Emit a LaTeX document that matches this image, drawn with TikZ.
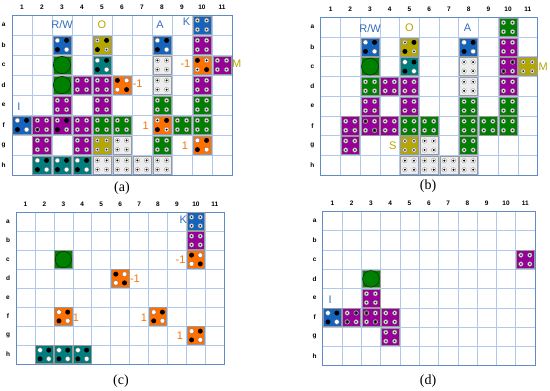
\documentclass[tikz,border=0pt]{standalone}
\usepackage{fontspec}
\setmainfont{Liberation Serif}
\setsansfont{Liberation Sans}
\usepackage{xcolor}
\usepackage{tikz}

\definecolor{tileblue}{RGB}{20,100,190}
\definecolor{tileolive}{RGB}{180,168,0}
\definecolor{tileteal}{RGB}{0,125,125}
\definecolor{tilepurple}{RGB}{150,0,150}
\definecolor{tileorange}{RGB}{255,112,0}
\definecolor{tilegreen}{RGB}{0,128,0}
\definecolor{tilegray}{RGB}{236,236,236}
\definecolor{gridblue}{RGB}{175,200,235}
\definecolor{frameblue}{RGB}{95,140,200}
\definecolor{labblue}{RGB}{50,110,190}
\definecolor{laborange}{RGB}{240,120,20}
\definecolor{labolive}{RGB}{180,165,0}

\tikzset{
  gridline/.style={draw=gridblue, line width=0.6pt},
  gridframe/.style={draw=frameblue, line width=0.9pt},
  tilebox/.style={draw=black!40, line width=0.6pt},
  colnum/.style={font=\sffamily\bfseries\fontsize{6.5}{6.5}\selectfont, inner sep=0pt},
  lab/.style={font=\sffamily\fontsize{11}{11}\selectfont, inner sep=0pt},
  caption/.style={font=\fontsize{14}{14}\selectfont, inner sep=0pt},
  % dots on the tiles
  dotw/.pic={\filldraw[fill=white, draw=black!60, line width=0.3pt] (0,0) circle (2.4pt);},
  dotk/.pic={\fill[black] (0,0) circle (2.5pt);},
  dotr/.pic={\filldraw[fill=white!90!black, draw=black!50, line width=0.3pt] (0,0) circle (2.3pt);
             \fill[black!85] (0,0) circle (1pt);},
  dotm/.pic={\filldraw[fill=black!75, draw=white!80!black, line width=0.4pt] (0,0) circle (2.3pt);
             \fill[black] (0,0) circle (1pt);},
  dotg/.pic={\filldraw[fill=white, draw=black!45, line width=0.3pt] (0,0) circle (2.3pt);
             \fill[black] (0,0) circle (1.1pt);},
}

% grid of 11 x 8 cells with its numbers and letters
\newcommand{\boardgrid}{%
  \foreach \i in {1,...,10} \draw[gridline] (\i,0) -- (\i,8);
  \foreach \j in {1,...,7} \draw[gridline] (0,\j) -- (11,\j);
  \draw[gridframe] (0,0) rectangle (11,8);
  \foreach \i in {1,...,11} \node[colnum] at (\i-0.5,-0.4) {\i};
  \foreach \r [count=\j] in {a,...,h} \node[colnum] at (-0.42,\j-0.5) {\r};
}
% tile in column #1, row #2, colour #3, dots #4..#7
\newcommand{\dietile}[7]{%
  \filldraw[tilebox, fill=#3] (#1-0.96,#2-0.96) rectangle (#1-0.04,#2-0.04);
  \pic at (#1-0.73,#2-0.73) {dot#4};
  \pic at (#1-0.27,#2-0.73) {dot#5};
  \pic at (#1-0.73,#2-0.27) {dot#6};
  \pic at (#1-0.27,#2-0.27) {dot#7};
}
\newcommand{\bigtile}[2]{%
  \filldraw[tilebox, fill=tilegreen] (#1-0.96,#2-0.96) rectangle (#1-0.04,#2-0.04);
  \filldraw[fill=tilegreen, draw=black!55!tilegreen, line width=0.6pt] (#1-0.5,#2-0.5) circle (0.43);
}

\begin{document}
\begin{tikzpicture}[x=1pt, y=-1pt]
  \useasboundingbox (0,0) rectangle (550,391);

  % (a)
  \begin{scope}[shift={(12,15)}, x=20pt, y=-20pt]
    \boardgrid
    \node[lab, text=labblue] at (2.5,0.5) {R/W};
    \node[lab, text=labolive] at (4.5,0.5) {O};
    \node[lab, text=labblue] at (7.4,0.5) {A};
    \node[lab, text=labblue] at (8.73,0.33) {K};
    \node[lab, text=laborange] at (8.67,2.45) {-1};
    \node[lab, text=labolive] at (11.24,2.45) {M};
    \node[lab, text=laborange, anchor=west] at (6.03,3.45) {-1};
    \node[lab, text=labblue] at (0.35,4.6) {I};
    \node[lab, text=laborange] at (6.68,5.52) {1};
    \node[lab, text=laborange] at (8.65,6.52) {1};
    \dietile{10}{1}{tileblue}{r}{r}{r}{r}
    \dietile{3}{2}{tileblue}{w}{k}{k}{w}
    \dietile{5}{2}{tileolive}{r}{k}{k}{r}
    \dietile{8}{2}{tileblue}{w}{k}{k}{w}
    \dietile{10}{2}{tilepurple}{r}{r}{r}{r}
    \bigtile{3}{3}
    \dietile{5}{3}{tileteal}{w}{k}{k}{w}
    \dietile{8}{3}{tilegray}{g}{g}{g}{g}
    \dietile{10}{3}{tileorange}{k}{g}{g}{k}
    \dietile{11}{3}{tilepurple}{r}{r}{r}{r}
    \bigtile{3}{4}
    \dietile{4}{4}{tilepurple}{r}{r}{r}{r}
    \dietile{5}{4}{tilepurple}{r}{r}{r}{r}
    \dietile{6}{4}{tileorange}{k}{w}{w}{k}
    \dietile{8}{4}{tilegray}{g}{g}{g}{g}
    \dietile{10}{4}{tilepurple}{r}{r}{r}{r}
    \dietile{3}{5}{tilepurple}{r}{r}{r}{r}
    \dietile{5}{5}{tilepurple}{r}{r}{r}{r}
    \dietile{8}{5}{tilegreen}{r}{r}{r}{r}
    \dietile{10}{5}{tilegreen}{r}{r}{r}{r}
    \dietile{1}{6}{tileblue}{w}{k}{k}{w}
    \dietile{2}{6}{tilepurple}{r}{r}{m}{r}
    \dietile{3}{6}{tilepurple}{r}{k}{k}{r}
    \dietile{4}{6}{tilepurple}{r}{r}{r}{r}
    \dietile{5}{6}{tilegreen}{r}{r}{r}{r}
    \dietile{6}{6}{tilegreen}{r}{r}{r}{r}
    \dietile{8}{6}{tileorange}{g}{k}{k}{g}
    \dietile{9}{6}{tilegreen}{r}{r}{r}{r}
    \dietile{10}{6}{tilegreen}{r}{r}{r}{r}
    \dietile{2}{7}{tilepurple}{r}{r}{r}{r}
    \dietile{4}{7}{tilepurple}{r}{r}{r}{r}
    \dietile{5}{7}{tileolive}{r}{r}{r}{r}
    \dietile{6}{7}{tilegray}{g}{g}{g}{g}
    \dietile{8}{7}{tilegreen}{r}{r}{r}{r}
    \dietile{10}{7}{tileorange}{w}{k}{k}{w}
    \foreach \c in {2,3,4} {\dietile{\c}{8}{tileteal}{w}{k}{k}{w}}
    \foreach \c in {5,...,8} {\dietile{\c}{8}{tilegray}{g}{g}{g}{g}}
  \end{scope}

  % (b)
  \begin{scope}[shift={(320.7,17.3)}, x=19.72pt, y=-19.72pt]
    \boardgrid
    \node[lab, text=labblue] at (2.5,0.55) {R/W};
    \node[lab, text=labolive] at (4.5,0.55) {O};
    \node[lab, text=labblue] at (7.45,0.55) {A};
    \node[lab, text=labolive] at (11.28,2.5) {M};
    \node[lab, text=labolive] at (3.65,6.49) {S};
    \dietile{10}{1}{tilegreen}{r}{r}{r}{r}
    \dietile{3}{2}{tileblue}{w}{k}{k}{w}
    \dietile{5}{2}{tileolive}{r}{k}{k}{r}
    \dietile{8}{2}{tileblue}{w}{k}{k}{w}
    \dietile{10}{2}{tilepurple}{r}{r}{r}{r}
    \bigtile{3}{3}
    \dietile{5}{3}{tileteal}{w}{k}{k}{w}
    \dietile{8}{3}{tilegray}{g}{g}{g}{g}
    \dietile{10}{3}{tilepurple}{r}{m}{m}{r}
    \dietile{11}{3}{tileolive}{r}{r}{r}{r}
    \dietile{3}{4}{tilegreen}{r}{r}{r}{r}
    \dietile{4}{4}{tilepurple}{r}{r}{r}{r}
    \dietile{5}{4}{tilepurple}{r}{r}{r}{r}
    \dietile{8}{4}{tilegray}{g}{g}{g}{g}
    \dietile{10}{4}{tilepurple}{r}{r}{r}{r}
    \dietile{3}{5}{tilepurple}{r}{r}{r}{r}
    \dietile{5}{5}{tilepurple}{r}{r}{r}{r}
    \dietile{8}{5}{tilegreen}{r}{r}{r}{r}
    \dietile{10}{5}{tilegreen}{r}{r}{r}{r}
    \dietile{2}{6}{tilepurple}{r}{r}{r}{r}
    \dietile{3}{6}{tilepurple}{m}{r}{r}{m}
    \dietile{4}{6}{tilepurple}{r}{r}{r}{r}
    \foreach \c in {5,6,8,9,10} {\dietile{\c}{6}{tilegreen}{r}{r}{r}{r}}
    \dietile{2}{7}{tilepurple}{r}{r}{r}{r}
    \dietile{5}{7}{tileolive}{r}{r}{r}{r}
    \dietile{6}{7}{tilegray}{g}{g}{g}{g}
    \dietile{8}{7}{tilegreen}{r}{r}{r}{r}
    \foreach \c in {5,...,8} {\dietile{\c}{8}{tilegray}{g}{g}{g}{g}}
  \end{scope}

  % (c)
  \begin{scope}[shift={(16,212)}, x=18.94pt, y=-19pt]
    \boardgrid
    \node[lab, text=labblue] at (8.83,0.42) {K};
    \node[lab, text=laborange] at (8.69,2.53) {-1};
    \node[lab, text=laborange] at (6.28,3.53) {-1};
    \node[lab, text=laborange] at (3.17,5.58) {1};
    \node[lab, text=laborange] at (6.75,5.58) {1};
    \node[lab, text=laborange] at (8.66,6.53) {1};
    \dietile{10}{1}{tileblue}{r}{r}{r}{r}
    \dietile{10}{2}{tilepurple}{r}{r}{r}{r}
    \bigtile{3}{3}
    \dietile{10}{3}{tileorange}{k}{w}{w}{k}
    \dietile{6}{4}{tileorange}{k}{w}{w}{k}
    \dietile{3}{6}{tileorange}{w}{k}{k}{w}
    \dietile{8}{6}{tileorange}{w}{k}{k}{w}
    \dietile{10}{7}{tileorange}{w}{k}{k}{w}
    \foreach \c in {2,3,4} {\dietile{\c}{8}{tileteal}{w}{k}{k}{w}}
  \end{scope}

  % (d)
  \begin{scope}[shift={(322.7,211.3)}, x=19.3pt, y=-19.3pt]
    \boardgrid
    \node[lab, text=labblue] at (0.38,4.6) {I};
    \dietile{11}{3}{tilepurple}{r}{r}{r}{r}
    \bigtile{3}{4}
    \dietile{3}{5}{tilepurple}{r}{r}{r}{r}
    \dietile{1}{6}{tileblue}{w}{k}{k}{w}
    \dietile{2}{6}{tilepurple}{r}{m}{m}{r}
    \dietile{3}{6}{tilepurple}{m}{r}{r}{m}
    \dietile{4}{6}{tilepurple}{r}{r}{r}{r}
    \dietile{4}{7}{tilepurple}{r}{r}{r}{r}
  \end{scope}

  % captions
  \node[caption] (capa) at (122,188) {(a)};
  \node[caption] (capb) at (428,186) {(b)};
  \node[caption] (capc) at (121,381) {(c)};
  \node[caption] (capd) at (428,381) {(d)};
\end{tikzpicture}
\end{document}
